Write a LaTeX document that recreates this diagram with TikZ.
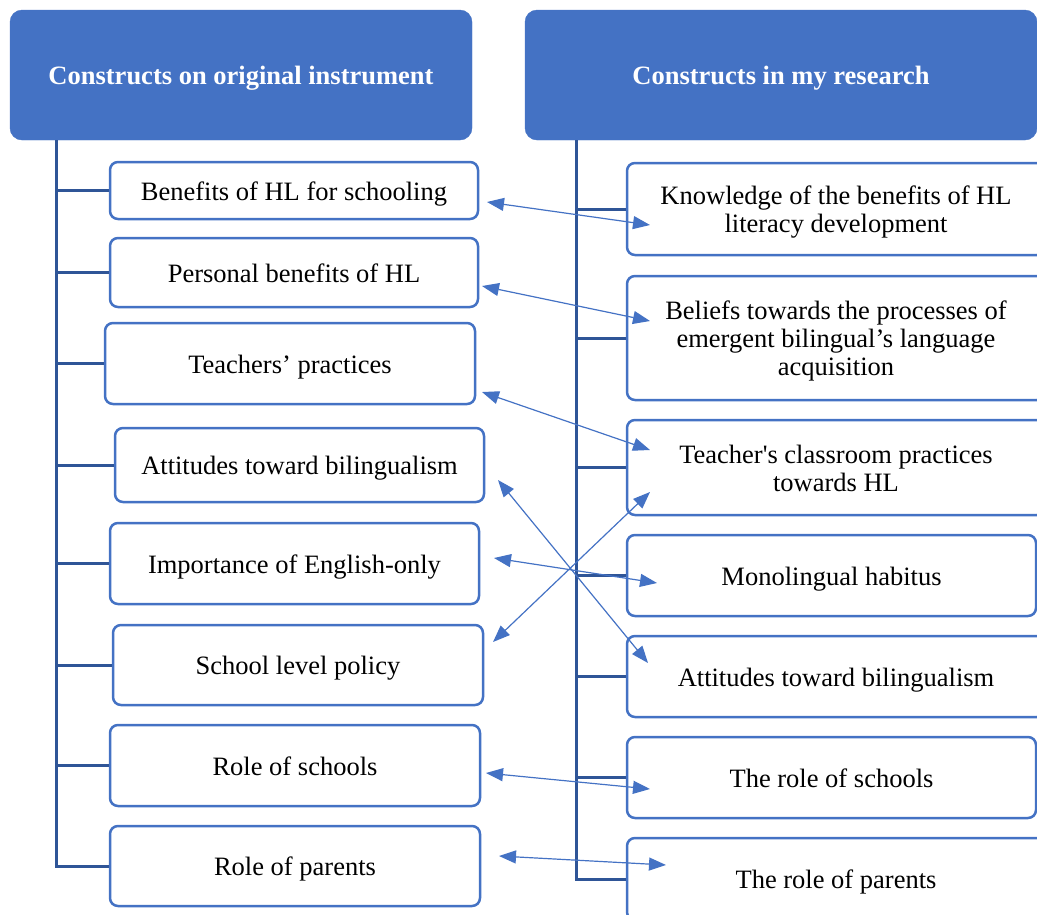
\documentclass[tikz,border=0pt]{standalone}
\usepackage{fontspec}
\setmainfont{Liberation Serif}
\usetikzlibrary{arrows.meta}
\definecolor{boxblue}{HTML}{4472C4}
\definecolor{treeblue}{HTML}{2F5597}
\begin{document}
\begin{tikzpicture}[x=1pt,y=-1pt,
  txt/.style={font=\fontsize{26.5}{28}\selectfont, text height=24pt, text depth=5pt},
  two lines/.style={text height=52pt},
  three lines/.style={text height=80pt},
  header/.style={txt, rectangle, rounded corners=12pt, fill=boxblue, draw=boxblue,
    text=white, font=\fontsize{26.5}{28}\selectfont\bfseries, inner sep=0pt},
  item/.style={txt, rectangle, rounded corners=8pt, draw=boxblue, line width=2.5pt,
    fill=white, align=center, inner sep=0pt},
  tree/.style={draw=treeblue, line width=3pt},
  link/.style={draw=boxblue, line width=1.2pt,
    {Triangle[length=17pt,width=13pt]}-{Triangle[length=17pt,width=13pt]}}]
\useasboundingbox (0,0) rectangle (1037,914);
\clip (0,0) rectangle (1037,914);

% headers
\node[header, minimum width=462pt, minimum height=130pt] (H1) at (241,75)
  {Constructs on original instrument};
\node[header, minimum width=512pt, minimum height=130pt] (H2) at (781,75)
  {Constructs in my research};

% constructs of the original instrument
\node[item, minimum width=368pt, minimum height=57pt] (L1) at (294,190.5) {Benefits of HL for schooling};
\node[item, minimum width=368pt, minimum height=69pt] (L2) at (294,272.5) {Personal benefits of HL};
\node[item, minimum width=370pt, minimum height=81pt] (L3) at (290,363.5) {Teachers’ practices};
\node[item, minimum width=369pt, minimum height=74pt] (L4) at (299.5,465) {Attitudes toward bilingualism};
\node[item, minimum width=369pt, minimum height=81pt] (L5) at (294.5,563.5) {Importance of English-only};
\node[item, minimum width=370pt, minimum height=80pt] (L6) at (298,665) {School level policy};
\node[item, minimum width=370pt, minimum height=81pt] (L7) at (295,765.5) {Role of schools};
\node[item, minimum width=370pt, minimum height=80pt] (L8) at (295,866) {Role of parents};

% constructs of the present research
\node[item, two lines, minimum width=418pt, minimum height=92pt] (R1) at (836,209)
  {Knowledge of the benefits of HL\\literacy development};
\node[item, three lines, minimum width=418pt, minimum height=124pt] (R2) at (836,338)
  {Beliefs towards the processes of\\emergent bilingual’s language\\acquisition};
\node[item, two lines, minimum width=418pt, minimum height=95pt] (R3) at (836,467.5)
  {Teacher\textquotesingle s classroom practices\\towards HL};
\node[item, minimum width=409pt, minimum height=81pt] (R4) at (831.5,575.5) {Monolingual habitus};
\node[item, minimum width=418pt, minimum height=81pt] (R5) at (836,676.5) {Attitudes toward bilingualism};
\node[item, minimum width=409pt, minimum height=81pt] (R6) at (831.5,777.5) {The role of schools};
\node[item, minimum width=418pt, minimum height=82pt] (R7) at (836,879) {The role of parents};

% tree connectors
\coordinate (ltop) at (56,140);
\coordinate (rtop) at (576,140);
\draw[tree] (ltop) |- (L8.west);
\foreach \n in {L1,L2,L3,L4,L5,L6,L7}
  \draw[tree] (ltop |- \n.west) -- (\n.west);
\draw[tree] (rtop) |- (R7.west);
\foreach \n in {R1,R2,R3,R4,R5,R6}
  \draw[tree] (rtop |- \n.west) -- (\n.west);

% correspondence links
\coordinate (a1) at (487,202);  \coordinate (b1) at (650,225);
\coordinate (a2) at (482,286);  \coordinate (b2) at (650,321);
\coordinate (a3) at (482,392);  \coordinate (b3) at (650,450);
\coordinate (a4) at (498,480);  \coordinate (b4) at (648,663);
\coordinate (a5) at (494,558);  \coordinate (b5) at (657,583);
\coordinate (a6) at (493,642);  \coordinate (b6) at (650,492);
\coordinate (a7) at (486,773);  \coordinate (b7) at (650,789);
\coordinate (a8) at (499,856);  \coordinate (b8) at (666,865);
\foreach \i in {1,...,8}
  \draw[link] (a\i) -- (b\i);
\end{tikzpicture}
\end{document}
